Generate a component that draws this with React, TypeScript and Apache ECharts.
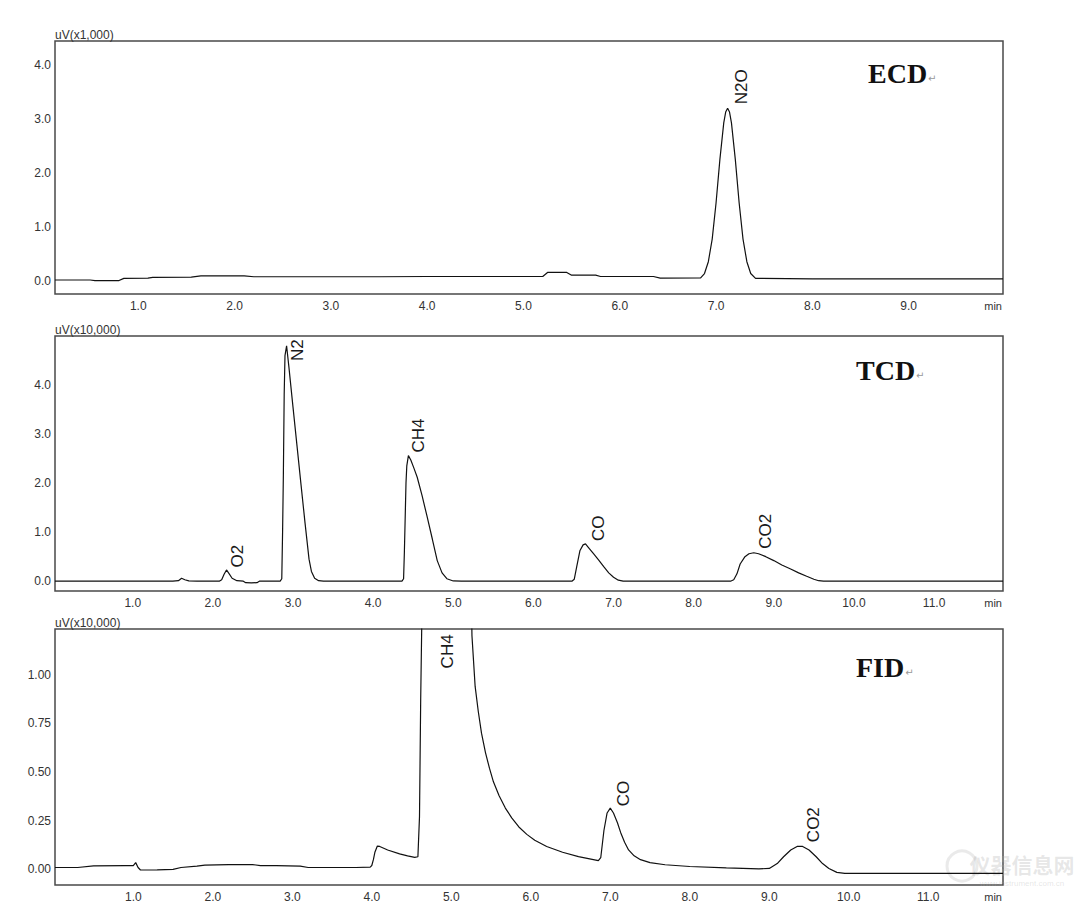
import React, { useEffect, useRef } from "react";
import * as echarts from "echarts";

// ---- data (time in min, signal in axis units) ----
const ecdTrace: [number, number][] = [
  [0.135, 0.01], [0.5, 0.01], [0.55, 0], [0.8, 0], [0.85, 0.04], [1.1, 0.045], [1.15, 0.06],
  [1.55, 0.065], [1.65, 0.085], [2.1, 0.085], [2.2, 0.07], [3.0, 0.07], [3.5, 0.07], [4.0, 0.075],
  [4.5, 0.075], [5.0, 0.075], [5.2, 0.075], [5.25, 0.15], [5.45, 0.15], [5.5, 0.1], [5.75, 0.1],
  [5.8, 0.075], [6.35, 0.075], [6.42, 0.045], [6.84, 0.05], [6.88, 0.13], [6.92, 0.35], [6.96, 0.77],
  [7.0, 1.44], [7.04, 2.25], [7.08, 2.93], [7.1, 3.13], [7.12, 3.2], [7.14, 3.13], [7.16, 2.93],
  [7.2, 2.25], [7.24, 1.44], [7.28, 0.77], [7.32, 0.35], [7.36, 0.13], [7.41, 0.04], [8.0, 0.03],
  [9.98, 0.03],
];

const tcdTrace: [number, number][] = [
  [0.03, 0], [1.5, 0], [1.57, 0.01], [1.61, 0.06], [1.65, 0.03], [1.7, 0.005], [1.8, 0], [2.08, 0],
  [2.11, 0.03], [2.14, 0.14], [2.17, 0.23], [2.2, 0.16], [2.24, 0.06], [2.3, 0.01], [2.38, 0],
  [2.41, -0.03], [2.48, -0.035], [2.55, -0.03], [2.58, 0], [2.84, 0], [2.86, 0.05], [2.87, 1.0],
  [2.88, 2.2], [2.89, 3.8], [2.9, 4.6], [2.92, 4.8], [2.95, 4.35], [3.0, 3.55], [3.05, 2.76],
  [3.1, 1.97], [3.15, 1.19], [3.2, 0.45], [3.23, 0.2], [3.27, 0.06], [3.32, 0.01], [3.38, 0],
  [4.36, 0], [4.38, 0.05], [4.39, 0.6], [4.4, 1.3], [4.41, 2.0], [4.42, 2.35], [4.44, 2.56],
  [4.47, 2.47], [4.51, 2.3], [4.55, 2.12], [4.61, 1.75], [4.67, 1.34], [4.74, 0.85], [4.8, 0.42],
  [4.86, 0.17], [4.92, 0.05], [5.0, 0.005], [5.1, 0], [6.48, 0], [6.51, 0.04], [6.54, 0.29],
  [6.58, 0.62], [6.62, 0.74], [6.65, 0.76], [6.69, 0.68], [6.75, 0.56], [6.82, 0.42], [6.88, 0.29],
  [6.94, 0.17], [7.0, 0.08], [7.06, 0.02], [7.12, 0], [8.46, 0], [8.5, 0.03], [8.54, 0.15],
  [8.58, 0.35], [8.64, 0.5], [8.69, 0.56], [8.75, 0.58], [8.81, 0.56], [8.9, 0.5], [9.0, 0.42],
  [9.1, 0.33], [9.21, 0.25], [9.31, 0.17], [9.41, 0.1], [9.5, 0.04], [9.56, 0.01], [9.62, 0],
  [11.86, 0],
];

const fidTrace: [number, number][] = [
  [0.015, 0.01], [0.3, 0.01], [0.5, 0.018], [0.9, 0.02], [1.0, 0.02], [1.03, 0.035], [1.06, 0.01],
  [1.09, -0.003], [1.3, -0.002], [1.5, 0.0], [1.6, 0.01], [1.8, 0.017], [1.9, 0.022], [2.2, 0.025],
  [2.5, 0.025], [2.6, 0.02], [2.8, 0.02], [3.1, 0.017], [3.2, 0.01], [3.5, 0.01], [3.8, 0.01],
  [3.98, 0.012], [4.0, 0.02], [4.02, 0.05], [4.04, 0.09], [4.07, 0.12], [4.1, 0.118], [4.2, 0.1],
  [4.35, 0.08], [4.45, 0.07], [4.54, 0.062], [4.58, 0.065], [4.6, 0.27], [4.615, 0.87], [4.63, 1.3],
  [4.7, 3.0], [4.9, 5.0], [5.1, 4.0], [5.22, 2.2], [5.26, 1.2], [5.3, 0.94], [5.34, 0.81],
  [5.38, 0.7], [5.43, 0.6], [5.48, 0.52], [5.53, 0.45], [5.6, 0.38], [5.68, 0.315], [5.76, 0.265],
  [5.85, 0.218], [5.95, 0.18], [6.05, 0.15], [6.2, 0.118], [6.4, 0.088], [6.6, 0.066],
  [6.85, 0.045], [6.88, 0.06], [6.92, 0.2], [6.96, 0.29], [7.0, 0.315],
  [7.04, 0.29], [7.09, 0.24], [7.13, 0.19], [7.18, 0.14], [7.23, 0.1], [7.3, 0.07], [7.38, 0.05],
  [7.5, 0.035], [7.69, 0.024], [8.0, 0.015], [8.46, 0.008], [8.87, 0.003], [9.0, 0.005],
  [9.1, 0.03], [9.18, 0.065], [9.27, 0.1], [9.35, 0.118], [9.42, 0.118], [9.5, 0.1], [9.59, 0.065],
  [9.67, 0.03], [9.75, 0.005], [9.85, -0.015], [9.95, -0.02], [10.5, -0.02], [11.0, -0.02],
  [11.94, -0.02],
];

const traces = [ecdTrace, tcdTrace, fidTrace];
const xRanges: [number, number][] = [[0.135, 9.98], [0.03, 11.86], [0.015, 11.94]];
const yRanges: [number, number][] = [[-0.25, 4.45], [-0.2, 5.0], [-0.08, 1.235]];
const xTickValues = [
  [1, 2, 3, 4, 5, 6, 7, 8, 9],
  [1, 2, 3, 4, 5, 6, 7, 8, 9, 10, 11],
  [1, 2, 3, 4, 5, 6, 7, 8, 9, 10, 11],
];
const yTickValues = [
  [0, 1, 2, 3, 4],
  [0, 1, 2, 3, 4],
  [0, 0.25, 0.5, 0.75, 1.0],
];
const yDecimals = [1, 1, 2];
const yUnits = ["uV(x1,000)", "uV(x10,000)", "uV(x10,000)"];
const detectorNames = ["ECD", "TCD", "FID"];

const peakLabels = [
  { panel: 0, text: "N2O", t: 7.26, v: 3.6 },
  { panel: 1, text: "N2", t: 3.06, v: 4.71 },
  { panel: 1, text: "CH4", t: 4.57, v: 2.97 },
  { panel: 1, text: "O2", t: 2.31, v: 0.51 },
  { panel: 1, text: "CO", t: 6.81, v: 1.08 },
  { panel: 1, text: "CO2", t: 8.9, v: 1.02 },
  { panel: 2, text: "CH4", t: 4.95, v: 1.12 },
  { panel: 2, text: "CO", t: 7.16, v: 0.39 },
  { panel: 2, text: "CO2", t: 9.56, v: 0.23 },
];

// ---- layout ----
const grids = [
  { left: 55, top: 41, width: 948, height: 253 },
  { left: 55, top: 336, width: 948, height: 255 },
  { left: 55, top: 629, width: 948, height: 256 },
];
const detectorPos = [
  { x: 868, y: 73 },
  { x: 856, y: 370 },
  { x: 856, y: 667 },
];

const FONT = "'Liberation Sans', Arial, sans-serif";

export default function App() {
  const ref = useRef<HTMLDivElement>(null);

  useEffect(() => {
    if (!ref.current) return;
    const chart = echarts.init(ref.current, undefined, { renderer: "svg" });

    const option: any = {
      animation: false,
      backgroundColor: "#ffffff",
      grid: grids.map((g) => ({
        ...g,
        show: true,
        borderColor: "#4a4a4a",
        borderWidth: 1.5,
        backgroundColor: "transparent",
        containLabel: false,
        outerBoundsMode: "none",
      })),
      xAxis: grids.map((_, i) => ({
        type: "value",
        gridIndex: i,
        min: xRanges[i][0],
        max: xRanges[i][1],
        axisLine: { show: false },
        axisTick: { show: false },
        splitLine: { show: false },
        axisLabel: {
          customValues: xTickValues[i],
          formatter: (v: number) => v.toFixed(1),
          color: "#333",
          fontSize: 12,
          fontFamily: FONT,
          margin: 6,
          showMinLabel: true,
          showMaxLabel: true,
          hideOverlap: false,
        },
      })),
      yAxis: grids.map((_, i) => ({
        type: "value",
        gridIndex: i,
        min: yRanges[i][0],
        max: yRanges[i][1],
        axisLine: { show: false },
        axisTick: { show: false },
        splitLine: { show: false },
        axisLabel: {
          customValues: yTickValues[i],
          formatter: (v: number) => v.toFixed(yDecimals[i]),
          color: "#333",
          fontSize: 12,
          fontFamily: FONT,
          margin: 4,
          showMinLabel: true,
          showMaxLabel: true,
        },
      })),
      series: traces.map((d, i) => ({
        type: "line",
        xAxisIndex: i,
        yAxisIndex: i,
        data: d,
        symbol: "none",
        showSymbol: false,
        silent: true,
        clip: true,
        lineStyle: { color: "#111", width: 1.2 },
      })),
    };
    chart.setOption(option);

    const graphics: any[] = [];
    grids.forEach((g, i) => {
      graphics.push({
        type: "text",
        x: g.left,
        y: g.top - 6,
        style: {
          text: yUnits[i],
          font: `12px ${FONT}`,
          fill: "#333",
          align: "left",
          verticalAlign: "middle",
        },
      });
      graphics.push({
        type: "text",
        x: g.left + g.width - 1,
        y: g.top + g.height + 12,
        style: {
          text: "min",
          font: `11px ${FONT}`,
          fill: "#333",
          align: "right",
          verticalAlign: "middle",
        },
      });
      graphics.push({
        type: "text",
        x: detectorPos[i].x,
        y: detectorPos[i].y,
        style: {
          text: `{a|${detectorNames[i]}}{b|↵}`,
          verticalAlign: "middle",
          align: "left",
          rich: {
            a: {
              fontFamily: "'Liberation Serif', 'Times New Roman', serif",
              fontWeight: "bold",
              fontSize: 28,
              fill: "#111",
              color: "#111",
            },
            b: {
              fontFamily: "'DejaVu Sans', sans-serif",
              fontSize: 10,
              color: "#999",
              fill: "#999",
              padding: [10, 0, 0, 1],
            },
          },
        },
      });
    });

    peakLabels.forEach((p) => {
      const px = chart.convertToPixel({ gridIndex: p.panel } as any, [p.t, p.v]) as number[];
      if (!px) return;
      graphics.push({
        type: "text",
        x: px[0],
        y: px[1],
        rotation: Math.PI / 2,
        style: {
          text: p.text,
          font: `17px ${FONT}`,
          fill: "#1a1a1a",
          align: "center",
          verticalAlign: "middle",
        },
      });
    });

    // faint watermark
    graphics.push({
      type: "text",
      x: 1022,
      y: 864,
      style: {
        text: "仪器信息网",
        font: "bold 21px 'Noto Sans CJK SC', sans-serif",
        fill: "rgba(170,170,170,0.28)",
        align: "center",
        verticalAlign: "middle",
      },
    });
    graphics.push({
      type: "text",
      x: 1022,
      y: 883,
      style: {
        text: "www.instrument.com.cn",
        font: `8px ${FONT}`,
        fill: "rgba(170,170,170,0.3)",
        align: "center",
        verticalAlign: "middle",
      },
    });
    graphics.push({
      type: "circle",
      shape: { cx: 962, cy: 866, r: 15 },
      style: { fill: "none", stroke: "rgba(170,170,170,0.25)", lineWidth: 3 },
    });

    chart.setOption({ graphic: graphics });

    return () => chart.dispose();
  }, []);

  return (
    <div
      ref={ref}
      style={{ position: "fixed", left: 0, top: 0, width: 1080, height: 918, background: "#fff" }}
    />
  );
}
